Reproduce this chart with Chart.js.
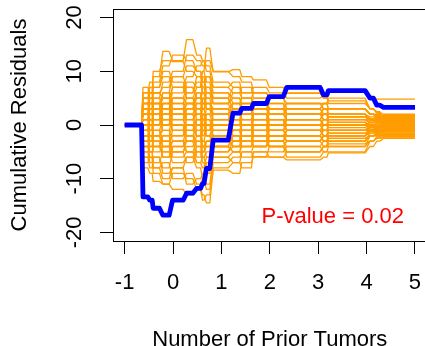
<!DOCTYPE html>
<html>
<head>
<meta charset="utf-8">
<script src="https://cdn.jsdelivr.net/npm/chart.js@4.4.1/dist/chart.umd.min.js"></script>
<style>
  html, body { margin: 0; padding: 0; background: #fff; overflow: hidden; }
  #wrap { width: 425px; height: 346px; overflow: hidden; }
</style>
</head>
<body>
<div id="wrap"><canvas id="c" width="440" height="370"></canvas></div>
<script>
// Step segments on the x axis (start / end of each flat piece)
const segStart = [-1.00, -0.62, -0.48, -0.41, -0.21, -0.01, 0.28, 0.49, 0.61, 0.69, 0.83, 1.24, 1.42, 1.66, 1.99, 2.35, 3.11, 3.21, 4.07, 4.21, 4.35];
const segEnd   = [-0.65, -0.52, -0.43, -0.28, -0.08, 0.21, 0.41, 0.57, 0.64, 0.76, 1.14, 1.38, 1.62, 1.93, 2.28, 3.04, 3.18, 3.97, 4.14, 4.27, 5.00];

// Observed cumulative residuals (blue)
const observed = [0, -13.4, -14.0, -15.5, -16.8, -14.0, -12.7, -11.8, -10.9, -8.1, -2.8, 2.2, 3.1, 4.0, 5.3, 7.0, 5.6, 6.4, 5.0, 3.7, 3.3];

// Simulated paths (orange)
const simulated = [
  [0, 4, 6, 9, 13.7, 12, 15.9, 13, 12, 11, 8, 7, 6, 6, 5, 4, 4, 3, 2, 2, 1.2],
  [0, 7, 6, 10, 12, 11.8, 10, 9, 10, 14.3, 9.9, 10.3, 9, 8.4, 7, 5.9, 5, 6.2, 5, 4.8, 4.8],
  [0, -8, -9, -10.5, -11, -9, -10, -12, -13, -14.5, -8.4, -9, -7, -5.9, -6, -6.5, -6, -5.2, -4, -3, -2.5],
  [0, 2, 3, 1, 4, 6, 8, 7, 9, 6, 4, 5, 3, 2, 3, 1, 2, 1, 0.5, 0.5, 0.3],
  [0, -3, -2, -5, -4, -6, -5, -7, -6, -8, -5, -4, -3, -4, -2, -3, -2, -1.5, -1, -1, -0.8],
  [0, 5, 4, 6, 7, 9, 11, 10, 8, 7, 5, 3, 4, 2, 1, 0, 1, 0.5, 0, 0.2, 0],
  [0, -5, -7, -6, -9, -8, -11, -10, -9, -7, -4, -2, -3, -1, -2, -1, 0, -0.5, 0, -0.3, -0.5],
  [0, 1, -1, 2, 0, 3, 2, 4, 5, 3, 2, 3, 1, 2, 0, 1, 0, 1, 0.5, 0.4, 0.6],
  [0, -1, 1, -2, -1, -3, -1, -2, 0, -2, -3, -1, -2, 0, -1, -2, -1, -1.5, -1, -1.2, -1.5],
  [0, 3, 2, 5, 3, 2, 4, 1, 2, 0, -2, -1, -3, -2, -4, -3, -4, -2.5, -2, -2, -2],
  [0, -2, -4, -3, -6, -4, -3, -1, -3, -4, -6, -7, -8, -5, -6, -5, -4, -3.5, -3, -2.5, -2.2],
  [0, 6, 8, 7, 10, 8, 6, 9, 7, 9, 7, 8, 6, 7, 6, 5, 5.5, 4, 3, 2.5, 1.5],
  [0, -6, -5, -8, -7, -10, -9, -11, -10, -12, -7, -6, -5, -6, -4, -5, -4, -3, -2, -1.8, -1.6],
  [0, 4, 2, 3, 1, -1, 1, 3, 1, 2, 3, 4, 2, 3, 2, 3, 2, 3, 2, 1.5, 1.3],
  [0, -4, -3, -1, -3, -2, 0, -2, -4, -3, -1, 0, 1, -1, 0, 2, 1, 2, 1, 0.8, 0.9],
  [0, 2, 5, 4, 6, 4, 2, 0, 2, 1, -1, -3, -2, -4, -3, -5, -4, -3, -2, -1.5, -1.2],
  [0, -7, -6, -9, -11, -12, -13, -12, -14, -13, -8, -7, -5, -4, -3, -2, -3, -2, -1.5, -1, -1],
  [0, 1, 3, 5, 8, 10, 13, 12, 11, 12, 10, 9, 8, 6, 5, 6, 5, 4.5, 3, 2.2, 0.5],
  [0, -3, -5, -4, -2, -5, -7, -5, -4, -6, -3, -4, -2, -3, -1, -2, -3, -2, -1, -0.6, -0.2],
  [0, 0, 2, 1, 3, 5, 4, 6, 4, 5, 6, 5, 4, 5, 3, 4, 3, 2, 1, 0.9, 0.7],
  [0, -1, -3, -2, -4, -1, 2, 0, -2, 0, 1, 2, 0, 1, -1, 0, -1, 0, -0.5, -0.8, -1.1],
  [0, 5, 7, 6, 5, 7, 9, 11, 12, 10, 7, 6, 7, 5, 4, 2, 3, 3, 2, 1.6, 1.0],
  [0, -2, 0, -3, -5, -7, -6, -8, -10, -11, -6, -5, -6, -5, -5, -4, -5, -4, -3, -2.2, -1.8],
  [0, 3, 1, 0, 2, 0, -2, -3, -1, -2, 0, 1, 2, 3, 2, 1, 2, 1.5, 1, 1.1, 1.4],
  [0, -5, -4, -2, 0, 2, 3, 5, 3, 4, 2, 0, -1, 0, 1, -1, -2, -1, -0.5, 0, 0.1],
  [0, 2, 0, -2, -4, -3, -5, -3, -5, -4, -2, -3, -1, -2, -3, -4, -3, -4, -2, -2, -1.9],
  [0, 6, 5, 8, 11, 13, 12, 10, 8, 9, 6, 4, 5, 4, 3, 4, 3, 3, 2, 1.8, 0.8],
  [0, -4, -6, -8, -10, -8, -6, -4, -6, -5, -3, -1, 0, -1, 1, 0, 1, 0.5, 0, -0.2, -0.4],
  [0, 1, 2, 4, 2, 4, 6, 8, 6, 7, 4, 2, 3, 1, 0, -1, 0, -1, -0.5, -0.4, -0.6],
  [0, -1, -2, 0, 1, 0, -2, -4, -3, -1, 1, 3, 2, 4, 2, 3, 4, 3, 2, 1.2, 1.8],
  [0, 4, 3, 7, 9, 7, 5, 3, 5, 3, 1, -1, -2, 0, -2, -3, -2, -1, -0.5, -0.7, -0.9],
  [0, -2, -1, 1, -1, 1, 3, 2, 0, 2, 0, -2, -4, -3, -4, -6, -5, -5, -3, -2.4, -2.4],
  [0, 3, 4, 2, 4, 7, 5, 7, 10, 8, 5, 7, 5, 6, 5, 3, 4, 5, 3, 2.3, 2.0],
  [0, -6, -8, -6, -8, -5, -3, -5, -7, -9, -5, -3, -4, -2, -3, -1, -2, -1, 0, 0.3, 0.4],
  [0, 0, -2, -4, -3, -2, 0, 1, -1, -2, -4, -5, -3, -4, -2, -3, -2, -3, -1.5, -1.4, -1.3],
  [0, 2, 4, 3, 1, 3, 1, -1, 1, -1, 2, 1, -1, 1, 0, 2, 1, 0, 0.5, 0.6, 0.2],
  [0, 1, 0, 3, 5, 3, 1, 2, 4, 3, 1, 0, 1, 0, -1, 0, -1, 0, -0.3, -0.1, 0.0],
  [0, -2, -3, -1, 1, -1, -3, -6, -5, -3, -2, -3, -1, -2, -1, -2, -1, -2, -1, -1.0, -0.7],
  [0, 3, 4, 6, 5, 3, 5, 4, 3, 4, 3, 1, 2, 1, 2, 1, 0, 1, 0.5, 0.8, 0.5],
  [0, -1, 1, 2, 4, 2, 0, -2, 0, 1, 0, -1, 0, -2, 0, -1, -1, -1, -0.8, -0.9, -0.3],
  [0, 0, 1, -1, -3, -5, -4, -2, -4, -3, -4, -2, -3, -1, -2, -2, -3, -2, -1.2, -1.6, -1.7],
  [0, 2, 1, 4, 2, 5, 7, 5, 6, 4, 3, 2, 4, 3, 4, 2, 3, 2, 1.5, 1.3, 1.1],
  [0, -3, -1, -3, -2, 0, -1, 1, 3, 1, -1, 1, 0, 2, 1, 0, 0, 0, 0.2, -0.1, 0.2],
  [0, 4, 5, 3, 6, 9, 7, 5, 7, 5, 2, 4, 3, 4, 3, 2, 2, 2, 1.2, 1.0, 0.9],
  [0, -4, -5, -7, -5, -3, -5, -7, -8, -6, -4, -5, -4, -3, -4, -3, -2, -2.5, -2, -1.7, -2.1],
  [0, 1, 3, 2, 0, 2, 4, 3, 1, 3, 5, 3, 1, 2, 1, 1, 2, 1, 1, 0.7, 1.0],
  [0, -1, -2, -4, -6, -4, -2, 0, -1, 0, -2, -4, -2, -3, -2, -1, -2, -1, -1, -0.5, -1.0],
  [0, 2, 2, 0, 2, 1, -1, 1, 2, 0, 1, 2, 3, 1, 3, 2, 1, 1.5, 0.8, 0.6, 0.8],
  [0, -2, -1, 1, 3, 5, 4, 2, 0, -1, 0, 1, -1, 0, -1, 1, 0, 0.5, 0, -0.2, -0.2],
  [0, 5, 6, 4, 3, 1, 3, 6, 4, 6, 4, 6, 5, 3, 2, 3, 2, 1.5, 1.2, 1.4, 1.6]
];

const xTicks = [-1, 0, 1, 2, 3, 4, 5];
const yTicks = [-20, -10, 0, 10, 20];
const xTitle = 'Number of Prior Tumors';
const yTitle = 'Cumulative Residuals';
const pValueText = 'P-value = 0.02';

const FONT = 'Liberation Sans, Arial, Helvetica, sans-serif';

// turn a list of segment values into step points
function stepPoints(vals) {
  const pts = [];
  vals.forEach((v, i) => {
    pts.push({ x: segStart[i], y: v });
    pts.push({ x: segEnd[i], y: v });
  });
  return pts;
}

const datasets = [{
  data: stepPoints(observed),
  borderColor: '#0000FF',
  borderWidth: 4.8,
  order: 0
}];
simulated.forEach(path => {
  datasets.push({
    data: stepPoints(path),
    borderColor: '#FF9C00',
    borderWidth: 1.3,
    order: 1
  });
});

// box round the plot region + p-value label
const boxPlugin = {
  id: 'box',
  afterDraw(chart) {
    const { ctx, chartArea: a, scales } = chart;
    ctx.save();
    ctx.strokeStyle = '#000';
    ctx.lineWidth = 1;
    ctx.strokeRect(Math.round(a.left) + 0.5, Math.round(a.top) + 0.5, a.right - a.left, a.bottom - a.top);
    ctx.fillStyle = '#FF0000';
    ctx.font = '22px ' + FONT;
    ctx.textAlign = 'center';
    ctx.textBaseline = 'middle';
    ctx.fillText(pValueText, scales.x.getPixelForValue(3.3), scales.y.getPixelForValue(-17.1));
    ctx.restore();
  }
};

new Chart(document.getElementById('c'), {
  type: 'line',
  data: { datasets: datasets },
  plugins: [boxPlugin],
  options: {
    responsive: false,
    animation: false,
    events: [],
    layout: { padding: { left: 0, top: 9, right: 13.4, bottom: 0 } },
    elements: {
      point: { radius: 0 },
      line: { tension: 0, fill: false, borderJoinStyle: 'round', borderCapStyle: 'butt' }
    },
    plugins: { legend: { display: false }, tooltip: { enabled: false } },
    scales: {
      x: {
        type: 'linear',
        min: -1.24,
        max: 5.24,
        afterBuildTicks: s => { s.ticks = xTicks.map(v => ({ value: v })); },
        afterFit: s => { s.height = 129; s.paddingLeft = 0; s.paddingRight = 0; },
        grid: { drawOnChartArea: false, drawTicks: true, tickLength: 13, color: '#000', lineWidth: 1 },
        border: { display: true, color: '#000', width: 1 },
        ticks: { color: '#000', font: { family: FONT, size: 22 }, padding: 16, maxRotation: 0, autoSkip: false },
        title: { display: true, text: xTitle, color: '#000', font: { family: FONT, size: 22 }, padding: { top: 0, bottom: 16.8 } }
      },
      y: {
        type: 'linear',
        min: -21.6,
        max: 21.6,
        afterBuildTicks: s => { s.ticks = yTicks.map(v => ({ value: v })); },
        afterFit: s => { s.width = 113; s.paddingTop = 0; s.paddingBottom = 0; },
        grid: { drawOnChartArea: false, drawTicks: true, tickLength: 13, color: '#000', lineWidth: 1 },
        border: { display: true, color: '#000', width: 1 },
        ticks: { color: '#000', font: { family: FONT, size: 22 }, padding: 9, minRotation: 90, maxRotation: 90, crossAlign: 'center', autoSkip: false },
        title: { display: true, text: yTitle, color: '#000', font: { family: FONT, size: 22 }, padding: { top: 6.8, bottom: 0 } }
      }
    }
  }
});
</script>
</body>
</html>
